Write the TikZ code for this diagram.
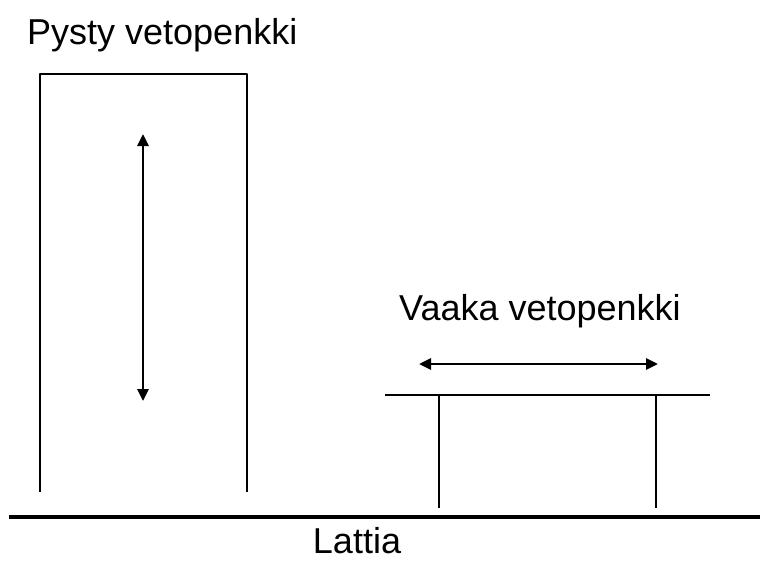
\documentclass[tikz,border=0pt]{standalone}
\usepackage{fontspec}
\setmainfont{Liberation Sans}
\usetikzlibrary{arrows.meta}
\begin{document}
\begin{tikzpicture}[x=1pt,y=-1pt,
  line/.style={line width=2.8pt,black},
  floor/.style={line width=3.2pt,black},
  move/.style={line width=2.8pt,{Triangle[length=12pt,width=11pt]}-{Triangle[length=12pt,width=11pt]}},
  lab/.style={font=\fontsize{36}{40}\selectfont,inner sep=0pt}]
\useasboundingbox (0,0) rectangle (760,560);
% vertical bench
\coordinate (vbl) at (40,492);
\coordinate (vtl) at (40,74);
\coordinate (vtr) at (247,74);
\coordinate (vbr) at (247,492);
\draw[line,line join=round] (vbl) -- (vtl) -- (vtr) -- (vbr);
\coordinate (va) at (143,134);
\coordinate (vb) at (143,401);
\draw[move] (va) -- (vb);
\node[lab,anchor=base west] (pysty) at (27,44) {Pysty vetopenkki};
% horizontal bench
\coordinate (hl) at (385,395);
\coordinate (hr) at (710,395);
\draw[line] (hl) -- (hr);
\coordinate (l1t) at (439,395);
\coordinate (l1b) at (439,508);
\coordinate (l2t) at (656,395);
\coordinate (l2b) at (656,508);
\draw[line] (l1t) -- (l1b);
\draw[line] (l2t) -- (l2b);
\coordinate (ha) at (419,364);
\coordinate (hb) at (658,364);
\draw[move] (ha) -- (hb);
\node[lab,anchor=base west] (vaaka) at (399,320) {Vaaka vetopenkki};
% floor
\coordinate (f1) at (9,517);
\coordinate (f2) at (760,517);
\draw[floor] (f1) -- (f2);
\node[lab,anchor=base] (lattia) at (357,553) {Lattia};
\end{tikzpicture}
\end{document}
